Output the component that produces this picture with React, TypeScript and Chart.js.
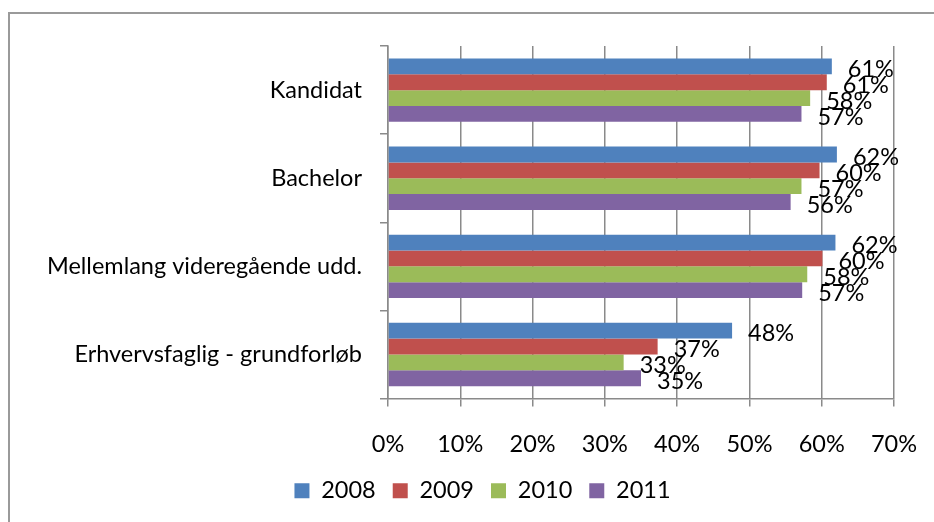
import React, { useEffect, useRef } from 'react';
import { Chart, registerables } from 'chart.js';

Chart.register(...registerables);

const categories = ['Kandidat', 'Bachelor', 'Mellemlang videregående udd.', 'Erhvervsfaglig - grundforløb'];
const years = ['2008', '2009', '2010', '2011'];
const values2008 = [61.4, 62.1, 61.9, 47.6];
const values2009 = [60.7, 59.7, 60.1, 37.3];
const values2010 = [58.4, 57.2, 58.0, 32.6];
const values2011 = [57.2, 55.7, 57.3, 35.0];
const seriesColors = ['#4F81BD', '#C0504D', '#9BBB59', '#8064A2'];
const xMin = 0;
const xMax = 70;
const xStep = 10;

const FONT = 'Lato';
const FONT_SIZE = 23.5;
const GRID = '#8a8a8a';
const LEGEND_CENTER_X = 472.5;

const labelPlugin = {
  id: 'barValueLabels',
  afterDatasetsDraw(chart: any) {
    const ctx = chart.ctx;
    ctx.save();
    ctx.font = `${FONT_SIZE}px ${FONT}`;
    ctx.fillStyle = '#000';
    ctx.textAlign = 'left';
    ctx.textBaseline = 'middle';
    chart.data.datasets.forEach((ds: any, i: number) => {
      const meta = chart.getDatasetMeta(i);
      meta.data.forEach((bar: any, j: number) => {
        ctx.fillText(Math.round(ds.data[j]) + '%', bar.x + 16, bar.y + 3);
      });
    });
    ctx.restore();
  },
};

const legendShiftPlugin = {
  id: 'legendShift',
  afterLayout(chart: any) {
    const lg = chart.legend;
    if (!lg) return;
    const dx = LEGEND_CENTER_X - (lg.left + lg.right) / 2;
    lg.left += dx;
    lg.right += dx;
  },
};

export default function App() {
  const ref = useRef<HTMLCanvasElement | null>(null);

  useEffect(() => {
    if (!ref.current) return;
    const seriesValues = [values2008, values2009, values2010, values2011];
    const chart = new Chart(ref.current, {
      type: 'bar',
      data: {
        labels: categories,
        datasets: years.map((y, i) => ({
          label: y,
          data: seriesValues[i],
          backgroundColor: seriesColors[i],
          borderWidth: 0,
          categoryPercentage: 0.72,
          barPercentage: 1.0,
        })),
      },
      options: {
        indexAxis: 'y',
        responsive: false,
        animation: false,
        layout: { padding: { left: 4, right: 40, top: 29, bottom: 9.5 } },
        plugins: {
          tooltip: { enabled: false },
          title: { display: false },
          legend: {
            position: 'bottom',
            labels: {
              boxWidth: 15,
              boxHeight: 15,
              padding: 17,
              color: '#000',
              font: { family: FONT, size: FONT_SIZE },
            },
          },
        },
        scales: {
          x: {
            type: 'linear',
            min: xMin,
            max: xMax,
            ticks: {
              stepSize: xStep,
              color: '#000',
              padding: 24,
              font: { family: FONT, size: FONT_SIZE },
              callback: (v: any) => v + '%',
            },
            grid: { color: GRID, lineWidth: 1.5, tickLength: 8, drawTicks: true },
            border: { display: true, color: GRID, width: 1.5 },
            afterFit: (scale: any) => {
              scale.height = 63.5;
              scale.paddingRight = 0;
              scale.paddingLeft = 0;
            },
          },
          y: {
            type: 'category',
            ticks: {
              color: '#000',
              padding: 18,
              font: { family: FONT, size: FONT_SIZE },
            },
            grid: { drawOnChartArea: false, color: GRID, lineWidth: 1.5, tickLength: 8, offset: true },
            border: { display: true, color: GRID, width: 1.5 },
            afterFit: (scale: any) => {
              scale.width = 374;
            },
          },
        },
      },
      plugins: [labelPlugin, legendShiftPlugin],
    });
    return () => chart.destroy();
  }, []);

  return (
    <div style={{ position: 'fixed', left: 0, top: 0, width: 934, height: 522, overflow: 'hidden', background: '#fff' }}>
      <div
        style={{
          position: 'absolute',
          left: 8,
          top: 12,
          width: 980,
          height: 580,
          borderLeft: '2px solid #9a9a9a',
          borderTop: '2px solid #9a9a9a',
        }}
      />
      <canvas
        ref={ref}
        width={924}
        height={508}
        style={{ position: 'absolute', left: 10, top: 14, width: 924, height: 508 }}
      />
    </div>
  );
}
